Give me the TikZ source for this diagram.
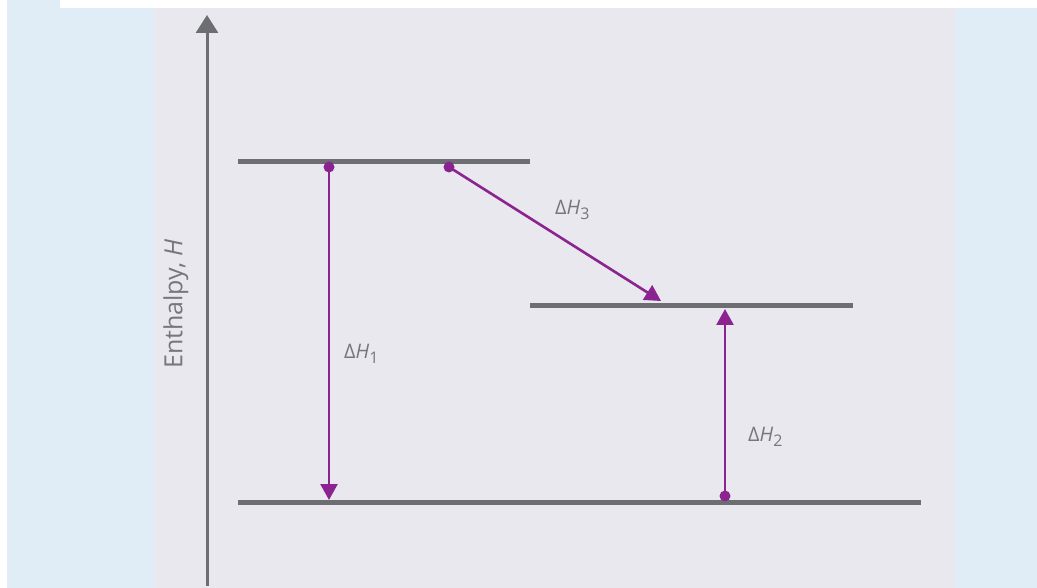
\documentclass[tikz,border=0pt]{standalone}
\usepackage{fontspec}
\setmainfont{Open Sans}
\usetikzlibrary{arrows.meta}
\definecolor{bgblue}{HTML}{E0EDF6}
\definecolor{panel}{HTML}{E8E8EE}
\definecolor{axisgrey}{HTML}{6D6E71}
\definecolor{txtgrey}{HTML}{76777A}
\definecolor{arrpurple}{HTML}{8B2391}
\newcommand{\dsub}[1]{\raisebox{-0.25em}{\fontsize{16}{16}\selectfont #1}}
\tikzset{
  level/.style={line width=5pt, draw=axisgrey},
  axisline/.style={line width=3pt, draw=axisgrey, -{Triangle[width=22pt,length=18pt]}},
  change/.style={line width=2.6pt, draw=arrpurple, -{Triangle[width=17pt,length=16pt]}, shorten >=0pt},
  dot/.style={circle, fill=arrpurple, inner sep=0pt, minimum size=11pt},
  lab/.style={text=txtgrey, font=\fontsize{20}{22}\selectfont, inner sep=0pt}
}
\begin{document}
\begin{tikzpicture}[x=1pt,y=-1pt]
\useasboundingbox (0,0) rectangle (1037,588);
\fill[white] (0,0) rectangle (1037,588);
\fill[bgblue] (7,0) rectangle (1037,588);
\fill[white] (60,0) rectangle (1037,8);
\fill[panel] (155,8) rectangle (955,588);
% axis
\coordinate (ax0) at (207,586);
\coordinate (ax1) at (207,15);
\draw[axisline] (ax0) -- (ax1);
\node[lab, rotate=90, font=\fontsize{25}{27}\selectfont] (ylab) at (176,304) {Enthalpy, \textit{H}};
% levels
\coordinate (t0) at (238,162); \coordinate (t1) at (530,162);
\coordinate (m0) at (530,306); \coordinate (m1) at (853,306);
\coordinate (b0) at (238,502); \coordinate (b1) at (921,502);
\draw[level] (t0) -- (t1);
\draw[level] (m0) -- (m1);
\draw[level] (b0) -- (b1);
% dots
\node[dot] (d1) at (329,167) {};
\node[dot] (d3) at (449,167) {};
\node[dot] (d2) at (725,496) {};
\coordinate (e1) at (329,500);
\coordinate (e3) at (661,301);
\coordinate (e2) at (725,309);
\draw[change] (d1.center) -- (e1);
\draw[change] (d3.center) -- (e3);
\draw[change] (d2.center) -- (e2);
% labels
\node[lab, anchor=west] (l1) at (344,354) {Δ\textit{H}\dsub{1}};
\node[lab, anchor=west] (l3) at (555,210) {Δ\textit{H}\dsub{3}};
\node[lab, anchor=west] (l2) at (748,437) {Δ\textit{H}\dsub{2}};
\end{tikzpicture}
\end{document}
